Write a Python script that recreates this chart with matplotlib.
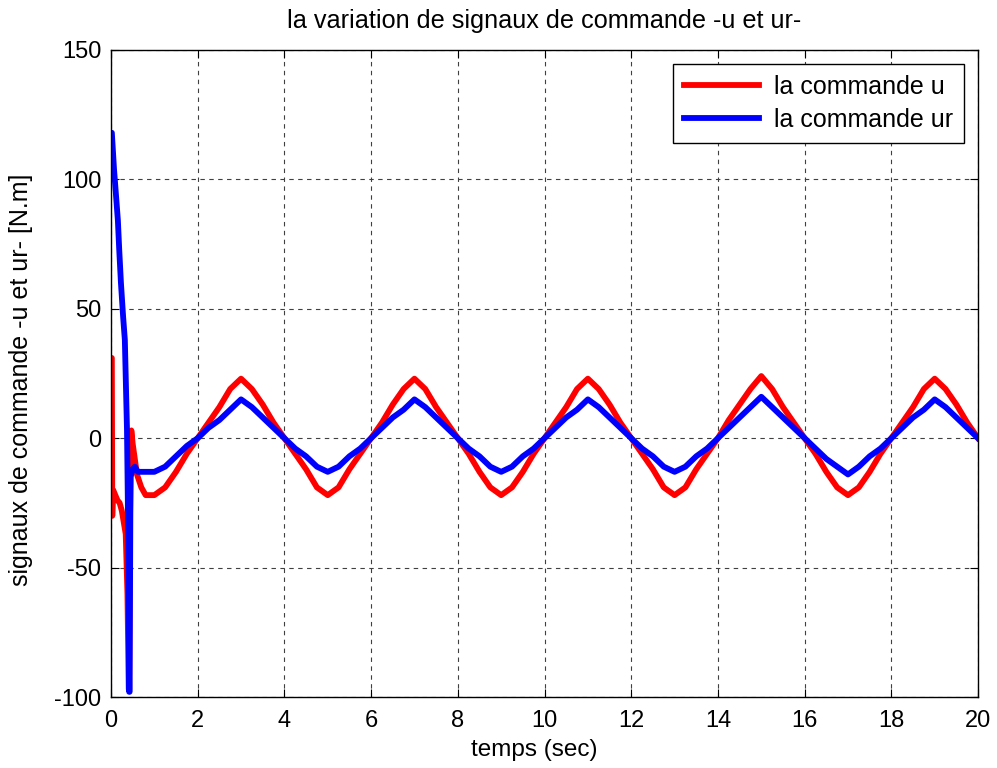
import numpy as np
import matplotlib
matplotlib.use("Agg")
import matplotlib.pyplot as plt

plt.rcParams['font.family'] = ['Liberation Sans', 'DejaVu Sans']
plt.rcParams['axes.unicode_minus'] = False

# start-up transient (0 .. 1 s)
t_u0 = [0.0, 0.02, 0.03, 0.05, 0.10, 0.15, 0.20, 0.25, 0.30, 0.34, 0.38, 0.41, 0.42,
        0.44, 0.47, 0.50, 0.55, 0.60, 0.70, 0.80, 0.90, 1.0]
u0 = [31, 31, -30, -20, -22, -24, -25, -28, -33, -37, -60, -97, -97,
      -30, 3, -2, -8, -14, -19, -22, -22, -22]

t_ur0 = [0.0, 0.02, 0.07, 0.12, 0.16, 0.19, 0.23, 0.28, 0.32, 0.37, 0.40, 0.42, 0.43,
         0.45, 0.50, 0.55, 0.62, 0.80, 1.0]
ur0 = [118, 118, 104, 93, 84, 73, 60, 47, 38, 3, -40, -98, -98,
       -15, -12, -11, -13, -13, -13]

# steady part, sampled every 0.25 s from 1.25 s to 20 s
t_ss = np.arange(1.25, 20.01, 0.25)
u_ss = [-19, -13, -6, 0, 6, 12, 19, 23, 19, 13, 6, 0, -6, -12, -19, -22,
        -19, -12, -6, 0, 6, 13, 19, 23, 19, 12, 6, 0, -6, -13, -19, -22,
        -19, -13, -6, 0, 6, 12, 19, 23, 19, 13, 6, 0, -6, -12, -19, -22,
        -19, -12, -6, 0, 7, 13, 19, 24, 19, 12, 6, 0, -6, -13, -19, -22,
        -19, -13, -6, 0, 6, 12, 19, 23, 19, 13, 6, 0]
ur_ss = [-11, -7, -3, 0, 4, 7, 11, 15, 12, 8, 4, 0, -4, -7, -11, -13,
         -11, -7, -4, 0, 4, 8, 11, 15, 12, 8, 4, 0, -4, -7, -11, -13,
         -11, -7, -4, 0, 4, 8, 11, 15, 12, 8, 4, 0, -4, -7, -11, -13,
         -11, -7, -4, 0, 4, 8, 12, 16, 12, 8, 4, 0, -4, -8, -11, -14,
         -11, -7, -4, 0, 4, 8, 11, 15, 12, 8, 4, 0]

t_u = np.concatenate([t_u0, t_ss])
u = np.concatenate([u0, u_ss])
t_ur = np.concatenate([t_ur0, t_ss])
ur = np.concatenate([ur0, ur_ss])

fig = plt.figure(figsize=(9.97, 7.68), dpi=100)
ax = fig.add_axes([0.1113, 0.0924, 0.8697, 0.8426])

ax.plot(t_u, u, color='#ff0000', lw=4.2, label='la commande u')
ax.plot(t_ur, ur, color='#0000ff', lw=4.2, label='la commande ur')

ax.set_xlim(0, 20)
ax.set_ylim(-100, 150)
ax.set_xticks(np.arange(0, 21, 2))
ax.set_yticks(np.arange(-100, 151, 50))
ax.grid(True, color='0.25', linestyle=(0, (4, 4)), lw=0.8)
ax.tick_params(direction='in', top=True, right=True, length=6, labelsize=17)
ax.tick_params(axis='x', pad=9)
ax.tick_params(axis='y', pad=7)
for s in ax.spines.values():
    s.set_linewidth(1.0)

ax.set_title('la variation de signaux de commande -u et ur-', fontsize=18.2, pad=16)
ax.set_xlabel('temps (sec)', fontsize=17.5)
ax.xaxis.set_label_coords(0.488, -0.065)
ax.set_ylabel('signaux de commande -u et ur- [N.m]', fontsize=18)
ax.yaxis.set_label_coords(-0.09, 0.49)

leg = ax.legend(loc='upper right', fontsize=18, fancybox=False, framealpha=1,
                edgecolor='black', handlelength=3.0, handletextpad=0.6,
                borderaxespad=0.55, borderpad=0.45, labelspacing=0.35)
leg.get_frame().set_linewidth(1.0)

fig.savefig('out.png', dpi=100)
